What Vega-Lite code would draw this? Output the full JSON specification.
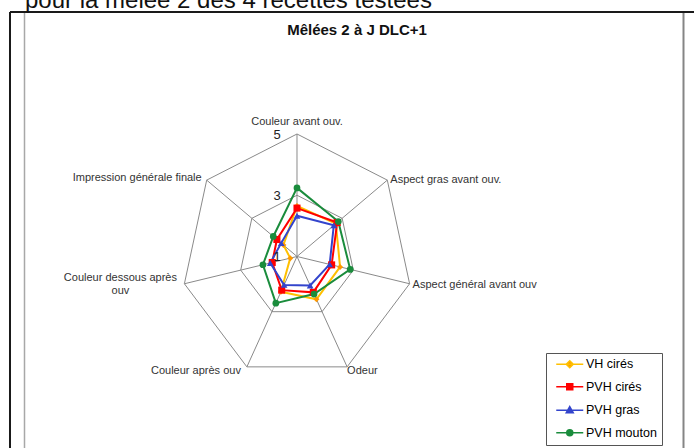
{
  "$schema": "https://vega.github.io/schema/vega-lite/v6.json",
  "width": 694,
  "height": 448,
  "autosize": "none",
  "padding": 0,
  "background": "white",
  "config": {"view": {"stroke": null}, "font": "Liberation Sans"},
  "datasets": {
    "scores": [
      {"series": "VH cirés", "idx": 0, "value": 2.65},
      {"series": "VH cirés", "idx": 1, "value": 2.72},
      {"series": "VH cirés", "idx": 2, "value": 2.53},
      {"series": "VH cirés", "idx": 3, "value": 2.55},
      {"series": "VH cirés", "idx": 4, "value": 2.28},
      {"series": "VH cirés", "idx": 5, "value": 1.24},
      {"series": "VH cirés", "idx": 6, "value": 1.6},
      {"series": "PVH cirés", "idx": 0, "value": 2.58},
      {"series": "PVH cirés", "idx": 1, "value": 2.78},
      {"series": "PVH cirés", "idx": 2, "value": 2.23},
      {"series": "PVH cirés", "idx": 3, "value": 2.3},
      {"series": "PVH cirés", "idx": 4, "value": 2.22},
      {"series": "PVH cirés", "idx": 5, "value": 1.88},
      {"series": "PVH cirés", "idx": 6, "value": 1.89},
      {"series": "PVH gras", "idx": 0, "value": 2.33},
      {"series": "PVH gras", "idx": 1, "value": 2.63},
      {"series": "PVH gras", "idx": 2, "value": 2.16},
      {"series": "PVH gras", "idx": 3, "value": 2.05},
      {"series": "PVH gras", "idx": 4, "value": 2.03},
      {"series": "PVH gras", "idx": 5, "value": 1.95},
      {"series": "PVH gras", "idx": 6, "value": 1.7},
      {"series": "PVH mouton", "idx": 0, "value": 3.24},
      {"series": "PVH mouton", "idx": 1, "value": 2.83},
      {"series": "PVH mouton", "idx": 2, "value": 2.89},
      {"series": "PVH mouton", "idx": 3, "value": 2.36},
      {"series": "PVH mouton", "idx": 4, "value": 2.69},
      {"series": "PVH mouton", "idx": 5, "value": 2.21},
      {"series": "PVH mouton", "idx": 6, "value": 2.05}
    ],
    "axes": [
      {"idx": 0, "label": "Couleur avant ouv."},
      {"idx": 1, "label": "Aspect gras avant ouv."},
      {"idx": 2, "label": "Aspect général avant ouv"},
      {"idx": 3, "label": "Odeur"},
      {"idx": 4, "label": "Couleur après ouv"},
      {"idx": 5, "label": ["Couleur dessous après", "ouv"]},
      {"idx": 6, "label": "Impression générale finale"}
    ],
    "grid": [
      {"level": 3, "idx": 0}, {"level": 3, "idx": 1}, {"level": 3, "idx": 2}, {"level": 3, "idx": 3},
      {"level": 3, "idx": 4}, {"level": 3, "idx": 5}, {"level": 3, "idx": 6},
      {"level": 5, "idx": 0}, {"level": 5, "idx": 1}, {"level": 5, "idx": 2}, {"level": 5, "idx": 3},
      {"level": 5, "idx": 4}, {"level": 5, "idx": 5}, {"level": 5, "idx": 6}
    ],
    "ticks": [{"level": 5}, {"level": 3}, {"level": 1}],
    "notes": [{"note": "page"}]
  },
  "encoding": {
    "x": {"field": "X", "type": "quantitative", "scale": {"domain": [-10.2857, 13.7489], "nice": false, "zero": false}, "axis": null},
    "y": {"field": "Y", "type": "quantitative", "scale": {"domain": [-6.2531, 8.3755], "nice": false, "zero": false}, "axis": null}
  },
  "resolve": {"scale": {"stroke": "independent", "fill": "independent", "shape": "independent"}},
  "layer": [
    {
      "data": {"name": "notes"},
      "transform": [
        {"calculate": "-9.9394", "as": "X"},
        {"calculate": "13.7489", "as": "X2"},
        {"calculate": "7.9837", "as": "Y"}
      ],
      "mark": {"type": "rule", "color": "#1a1a1a", "strokeWidth": 2},
      "encoding": {"x2": {"field": "X2"}}
    },
    {
      "data": {"name": "notes"},
      "transform": [
        {"calculate": "-9.9394", "as": "X"},
        {"calculate": "7.9837", "as": "Y"},
        {"calculate": "-6.2531", "as": "Y2"}
      ],
      "mark": {"type": "rule", "color": "#1a1a1a", "strokeWidth": 2},
      "encoding": {"y2": {"field": "Y2"}}
    },
    {
      "data": {"name": "notes"},
      "transform": [
        {"calculate": "-9.4372", "as": "X"},
        {"calculate": "7.95", "as": "Y"},
        {"calculate": "-6.2531", "as": "Y2"}
      ],
      "mark": {"type": "rule", "color": "#a8a8a8", "strokeWidth": 1.5},
      "encoding": {"y2": {"field": "Y2"}}
    },
    {
      "data": {"name": "notes"},
      "transform": [
        {"calculate": "13.3853", "as": "X"},
        {"calculate": "7.95", "as": "Y"},
        {"calculate": "-6.2531", "as": "Y2"}
      ],
      "mark": {"type": "rule", "color": "#858585", "strokeWidth": 2},
      "encoding": {"y2": {"field": "Y2"}}
    },
    {
      "data": {"name": "notes"},
      "transform": [
        {"calculate": "-9.4199", "as": "X"},
        {"calculate": "8.1143", "as": "Y"}
      ],
      "mark": {"type": "text", "text": "pour la mêlée 2 des 4 recettes testées", "align": "left", "baseline": "alphabetic", "fontSize": 24, "color": "#111"}
    },
    {
      "data": {"name": "notes"},
      "transform": [
        {"calculate": "2.0779", "as": "X"},
        {"calculate": "7.3959", "as": "Y"}
      ],
      "mark": {"type": "text", "text": "Mêlées 2 à J DLC+1", "align": "center", "baseline": "middle", "fontSize": 15, "fontWeight": "bold", "color": "#111"}
    },
    {
      "data": {"name": "grid"},
      "transform": [
        {"calculate": "datum.idx * 2 * PI / 7", "as": "theta"},
        {"calculate": "(datum.level - 1) * sin(datum.theta)", "as": "X"},
        {"calculate": "(datum.level - 1) * cos(datum.theta)", "as": "Y"}
      ],
      "mark": {"type": "line", "interpolate": "linear-closed", "color": "#8a8a8a", "strokeWidth": 1},
      "encoding": {"detail": {"field": "level", "type": "nominal"}, "order": {"field": "idx", "type": "quantitative"}}
    },
    {
      "data": {"name": "axes"},
      "transform": [
        {"calculate": "datum.idx * 2 * PI / 7", "as": "theta"},
        {"calculate": "4 * sin(datum.theta)", "as": "X"},
        {"calculate": "4 * cos(datum.theta)", "as": "Y"},
        {"calculate": "0", "as": "X0"},
        {"calculate": "0", "as": "Y0"}
      ],
      "mark": {"type": "rule", "color": "#8a8a8a", "strokeWidth": 1},
      "encoding": {"x2": {"field": "X0"}, "y2": {"field": "Y0"}}
    },
    {
      "data": {"name": "scores"},
      "transform": [
        {"calculate": "datum.idx * 2 * PI / 7", "as": "theta"},
        {"calculate": "(datum.value - 1) * sin(datum.theta)", "as": "X"},
        {"calculate": "(datum.value - 1) * cos(datum.theta)", "as": "Y"}
      ],
      "mark": {"type": "line", "interpolate": "linear-closed", "strokeWidth": 2},
      "encoding": {
        "stroke": {"field": "series", "type": "nominal", "legend": null,
          "scale": {"domain": ["VH cirés", "PVH cirés", "PVH gras", "PVH mouton"], "range": ["#FFC000", "#FF0000", "#3344CC", "#1A8C3C"]}},
        "order": {"field": "idx", "type": "quantitative"}
      }
    },
    {
      "data": {"name": "scores"},
      "transform": [
        {"filter": "datum.series === 'VH cirés'"},
        {"calculate": "datum.idx * 2 * PI / 7", "as": "theta"},
        {"calculate": "(datum.value - 1) * sin(datum.theta)", "as": "X"},
        {"calculate": "(datum.value - 1) * cos(datum.theta)", "as": "Y"}
      ],
      "mark": {"type": "point", "shape": "diamond", "filled": true, "size": 36, "opacity": 1, "color": "#FF9900"}
    },
    {
      "data": {"name": "scores"},
      "transform": [
        {"filter": "datum.series === 'PVH cirés'"},
        {"calculate": "datum.idx * 2 * PI / 7", "as": "theta"},
        {"calculate": "(datum.value - 1) * sin(datum.theta)", "as": "X"},
        {"calculate": "(datum.value - 1) * cos(datum.theta)", "as": "Y"}
      ],
      "mark": {"type": "point", "shape": "square", "filled": true, "size": 50, "opacity": 1, "color": "#FF0000"}
    },
    {
      "data": {"name": "scores"},
      "transform": [
        {"filter": "datum.series === 'PVH gras'"},
        {"calculate": "datum.idx * 2 * PI / 7", "as": "theta"},
        {"calculate": "(datum.value - 1) * sin(datum.theta)", "as": "X"},
        {"calculate": "(datum.value - 1) * cos(datum.theta)", "as": "Y"}
      ],
      "mark": {"type": "point", "shape": "triangle-up", "filled": true, "size": 45, "opacity": 1, "color": "#3344CC"}
    },
    {
      "data": {"name": "scores"},
      "transform": [
        {"filter": "datum.series === 'PVH mouton'"},
        {"calculate": "datum.idx * 2 * PI / 7", "as": "theta"},
        {"calculate": "(datum.value - 1) * sin(datum.theta)", "as": "X"},
        {"calculate": "(datum.value - 1) * cos(datum.theta)", "as": "Y"}
      ],
      "mark": {"type": "point", "shape": "circle", "filled": true, "size": 45, "opacity": 1, "color": "#1A8C3C"}
    },
    {
      "data": {"name": "ticks"},
      "transform": [
        {"calculate": "0", "as": "X"},
        {"calculate": "datum.level - 1", "as": "Y"}
      ],
      "mark": {"type": "text", "align": "center", "baseline": "middle", "dx": -20, "dy": 1, "fontSize": 13, "color": "#222"},
      "encoding": {"text": {"field": "level", "type": "nominal"}}
    },
    {
      "data": {"name": "axes"},
      "transform": [
        {"filter": "datum.idx === 0"},
        {"calculate": "4 * sin(datum.idx * 2 * PI / 7)", "as": "X"},
        {"calculate": "4 * cos(datum.idx * 2 * PI / 7)", "as": "Y"}
      ],
      "mark": {"type": "text", "align": "center", "baseline": "middle", "dy": -12, "fontSize": 11, "color": "#333"},
      "encoding": {"text": {"field": "label", "type": "nominal"}}
    },
    {
      "data": {"name": "axes"},
      "transform": [
        {"filter": "datum.idx === 1"},
        {"calculate": "4 * sin(datum.idx * 2 * PI / 7)", "as": "X"},
        {"calculate": "4 * cos(datum.idx * 2 * PI / 7)", "as": "Y"}
      ],
      "mark": {"type": "text", "align": "left", "baseline": "middle", "dx": 3, "dy": 0, "fontSize": 11, "color": "#333"},
      "encoding": {"text": {"field": "label", "type": "nominal"}}
    },
    {
      "data": {"name": "axes"},
      "transform": [
        {"filter": "datum.idx === 2"},
        {"calculate": "4 * sin(datum.idx * 2 * PI / 7)", "as": "X"},
        {"calculate": "4 * cos(datum.idx * 2 * PI / 7)", "as": "Y"}
      ],
      "mark": {"type": "text", "align": "left", "baseline": "middle", "dx": 3, "dy": 1.5, "fontSize": 11, "color": "#333"},
      "encoding": {"text": {"field": "label", "type": "nominal"}}
    },
    {
      "data": {"name": "axes"},
      "transform": [
        {"filter": "datum.idx === 3"},
        {"calculate": "4 * sin(datum.idx * 2 * PI / 7)", "as": "X"},
        {"calculate": "4 * cos(datum.idx * 2 * PI / 7)", "as": "Y"}
      ],
      "mark": {"type": "text", "align": "left", "baseline": "middle", "dx": 0, "dy": 4.5, "fontSize": 11, "color": "#333"},
      "encoding": {"text": {"field": "label", "type": "nominal"}}
    },
    {
      "data": {"name": "axes"},
      "transform": [
        {"filter": "datum.idx === 4"},
        {"calculate": "4 * sin(datum.idx * 2 * PI / 7)", "as": "X"},
        {"calculate": "4 * cos(datum.idx * 2 * PI / 7)", "as": "Y"}
      ],
      "mark": {"type": "text", "align": "right", "baseline": "middle", "dx": -6, "dy": 4.5, "fontSize": 11, "color": "#333"},
      "encoding": {"text": {"field": "label", "type": "nominal"}}
    },
    {
      "data": {"name": "axes"},
      "transform": [
        {"filter": "datum.idx === 5"},
        {"calculate": "4 * sin(datum.idx * 2 * PI / 7)", "as": "X"},
        {"calculate": "4 * cos(datum.idx * 2 * PI / 7)", "as": "Y"}
      ],
      "mark": {"type": "text", "align": "center", "baseline": "top", "dx": -64, "dy": -11.5, "lineHeight": 13, "fontSize": 11, "color": "#333"},
      "encoding": {"text": {"field": "label", "type": "nominal"}}
    },
    {
      "data": {"name": "axes"},
      "transform": [
        {"filter": "datum.idx === 6"},
        {"calculate": "4 * sin(datum.idx * 2 * PI / 7)", "as": "X"},
        {"calculate": "4 * cos(datum.idx * 2 * PI / 7)", "as": "Y"}
      ],
      "mark": {"type": "text", "align": "right", "baseline": "middle", "dx": -5, "dy": -2, "fontSize": 11, "color": "#333"},
      "encoding": {"text": {"field": "label", "type": "nominal"}}
    },
    {
      "data": {"name": "scores"},
      "transform": [
        {"filter": "false"},
        {"calculate": "0", "as": "X"},
        {"calculate": "0", "as": "Y"}
      ],
      "mark": {"type": "point", "filled": true, "opacity": 1, "strokeWidth": 1.5},
      "encoding": {
        "stroke": {"field": "series", "type": "nominal",
          "scale": {"domain": ["VH cirés", "PVH cirés", "PVH gras", "PVH mouton"], "range": ["#FFC000", "#FF0000", "#3344CC", "#1A8C3C"]},
          "legend": {"title": null, "orient": "none", "legendX": 546, "legendY": 353, "padding": 5, "strokeColor": "#555", "symbolSize": 100, "symbolOffset": 12.5, "labelOffset": 10, "rowPadding": 9.5, "labelFontSize": 12.5, "labelFont": "Liberation Sans", "labelColor": "#000", "symbolStrokeWidth": 1.5, "symbolOpacity": 1}},
        "fill": {"field": "series", "type": "nominal",
          "scale": {"domain": ["VH cirés", "PVH cirés", "PVH gras", "PVH mouton"], "range": ["#FF9900", "#FF0000", "#3344CC", "#1A8C3C"]},
          "legend": {"title": null, "orient": "none", "legendX": 546, "legendY": 353, "padding": 5, "strokeColor": "#555", "symbolSize": 100, "symbolOffset": 12.5, "labelOffset": 10, "rowPadding": 9.5, "labelFontSize": 12.5, "labelFont": "Liberation Sans", "labelColor": "#000", "symbolStrokeWidth": 1.5, "symbolOpacity": 1}},
        "shape": {"field": "series", "type": "nominal",
          "scale": {"domain": ["VH cirés", "PVH cirés", "PVH gras", "PVH mouton"],
            "range": [
              "M-2.7,0H2.7M0,-0.7L0.7,0L0,0.7L-0.7,0Z",
              "M-2.7,0H2.7M-0.6,-0.6H0.6V0.6H-0.6Z",
              "M-2.7,0H2.7M0,-0.75L0.7,0.5H-0.7Z",
              "M-2.7,0H2.7M0.6,0A0.6,0.6,0,1,1,-0.6,0A0.6,0.6,0,1,1,0.6,0Z"
            ]},
          "legend": {"title": null, "orient": "none", "legendX": 546, "legendY": 353, "padding": 5, "strokeColor": "#555", "symbolSize": 100, "symbolOffset": 12.5, "labelOffset": 10, "rowPadding": 9.5, "labelFontSize": 12.5, "labelFont": "Liberation Sans", "labelColor": "#000", "symbolStrokeWidth": 1.5, "symbolOpacity": 1}}
      }
    }
  ]
}
